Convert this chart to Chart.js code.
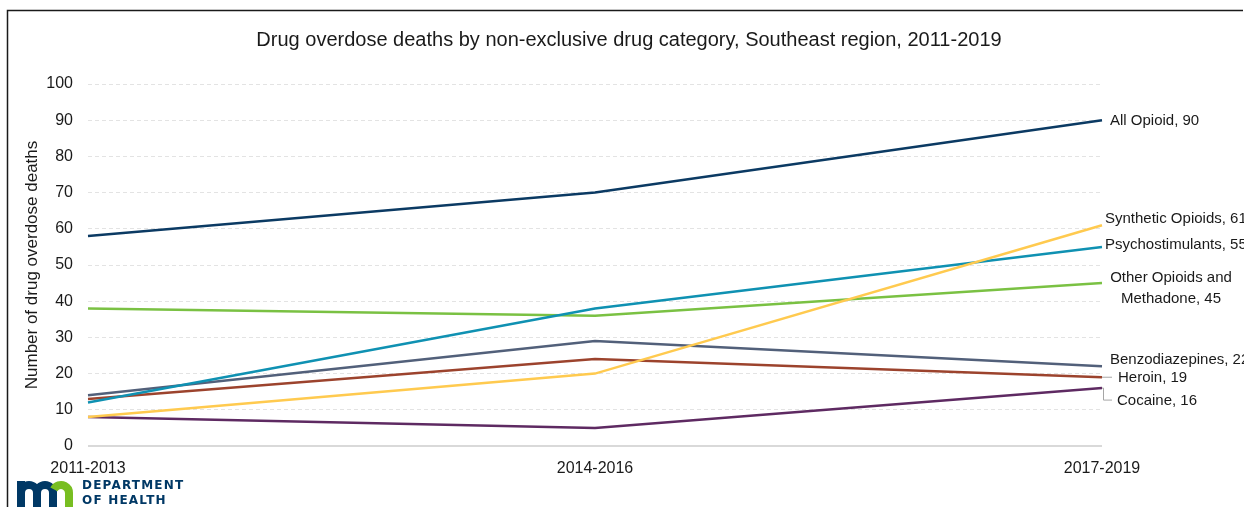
<!DOCTYPE html>
<html>
<head>
<meta charset="utf-8">
<script src="https://cdn.jsdelivr.net/npm/chart.js@4.4.0/dist/chart.umd.min.js"></script>
<style>
  body { margin: 0; background: #fff; }
  #chart { display: block; }
</style>
</head>
<body>
<canvas id="chart" width="1244" height="507"></canvas>
<script>
// Data
var periods = ['2011-2013', '2014-2016', '2017-2019'];
var allOpioid = [58, 70, 90];
var syntheticOpioids = [8, 20, 61];
var psychostimulants = [12, 38, 55];
var otherOpioids = [38, 36, 45];
var benzodiazepines = [14, 29, 22];
var heroin = [13, 24, 19];
var cocaine = [8, 5, 16];
var yTicks = [0, 10, 20, 30, 40, 50, 60, 70, 80, 90, 100];

var FONT = '"Liberation Sans", Arial, sans-serif';

// end-of-line labels (drawn by plugin below)
var endLabels = [
    { set: 0, lines: ['All Opioid, 90'], x: 1110, dy: 1, align: 'left' },
    { set: 1, lines: ['Synthetic Opioids, 61'], x: 1105, dy: -6, align: 'left' },
    { set: 2, lines: ['Psychostimulants, 55'], x: 1105, dy: -2, align: 'left' },
    { set: 3, lines: ['Other Opioids and', 'Methadone, 45'], x: 1171, dy: 5, align: 'center' },
    { set: 4, lines: ['Benzodiazepines, 22'], x: 1110, dy: -7, align: 'left' },
    { set: 5, lines: ['Heroin, 19'], x: 1118, dy: 1, align: 'left' },
    { set: 6, lines: ['Cocaine, 16'], x: 1117, dy: 13, align: 'left' }
];

function drawLogo(ctx) {
    ctx.save();
    ctx.lineWidth = 8;
    ctx.lineCap = 'butt';
    ctx.strokeStyle = '#003865';
    ctx.fillStyle = '#003865';
    ctx.fillRect(17, 481, 8, 12);
    ctx.beginPath();
    ctx.moveTo(21, 507);
    ctx.lineTo(21, 493);
    ctx.arc(29, 493, 8, Math.PI, 0);
    ctx.lineTo(37, 507);
    ctx.moveTo(37, 493);
    ctx.arc(45, 493, 8, Math.PI, 0);
    ctx.lineTo(53, 507);
    ctx.stroke();
    ctx.strokeStyle = '#78be21';
    ctx.beginPath();
    ctx.arc(61, 493, 8, Math.PI * 1.15, 0);
    ctx.lineTo(69, 507);
    ctx.stroke();
    ctx.font = 'bold 12px "DejaVu Sans", sans-serif';
    ctx.textAlign = 'left';
    ctx.textBaseline = 'middle';
    ctx.letterSpacing = '1.2px';
    ctx.fillText('DEPARTMENT', 82, 486);
    ctx.fillText('OF HEALTH', 82, 501);
    ctx.restore();
}

const extras = {
    id: 'extras',
    beforeDraw(chart) {
        const ctx = chart.ctx;
        ctx.save();
        ctx.fillStyle = '#fff';
        ctx.fillRect(0, 0, chart.width, chart.height);
        // frame
        ctx.strokeStyle = '#1a1a1a';
        ctx.lineWidth = 1.5;
        ctx.beginPath();
        ctx.moveTo(7.5, 507);
        ctx.lineTo(7.5, 10.5);
        ctx.lineTo(1243, 10.5);
        ctx.stroke();
        // title
        ctx.fillStyle = '#1a1a1a';
        ctx.font = '20px ' + FONT;
        ctx.textAlign = 'center';
        ctx.textBaseline = 'middle';
        ctx.fillText('Drug overdose deaths by non-exclusive drug category, Southeast region, 2011-2019', 629, 40);
        ctx.restore();
    },
    afterDatasetsDraw(chart) {
        const ctx = chart.ctx;
        const y = chart.scales.y;
        ctx.save();
        ctx.fillStyle = '#1a1a1a';
        ctx.font = '15px ' + FONT;
        ctx.textBaseline = 'middle';
        endLabels.forEach(l => {
            const ds = chart.data.datasets[l.set];
            const yy = y.getPixelForValue(ds.data[ds.data.length - 1]) + l.dy;
            ctx.textAlign = l.align;
            const top = yy - (l.lines.length - 1) * 21 / 2;
            l.lines.forEach((t, i) => ctx.fillText(t, l.x, top + i * 21));
        });
        // leader lines for Heroin and Cocaine
        const xEnd = chart.scales.x.getPixelForValue(2);
        ctx.strokeStyle = '#a6a6a6';
        ctx.lineWidth = 1;
        ctx.beginPath();
        let hy = y.getPixelForValue(heroin[2]);
        ctx.moveTo(xEnd, hy);
        ctx.lineTo(xEnd + 10, hy);
        let cy = y.getPixelForValue(cocaine[2]);
        ctx.moveTo(xEnd, cy);
        ctx.lineTo(xEnd + 1.5, cy);
        ctx.lineTo(xEnd + 1.5, cy + 12);
        ctx.lineTo(xEnd + 10, cy + 12);
        ctx.stroke();
        ctx.restore();

        drawLogo(ctx);
    }
};

function series(label, data, color) {
    return {
        label: label,
        data: data,
        borderColor: color,
        backgroundColor: color,
        borderWidth: 2.5,
        pointRadius: 0,
        tension: 0,
        clip: false
    };
}

new Chart(document.getElementById('chart'), {
    type: 'line',
    data: {
        labels: periods,
        datasets: [
            series('All Opioid', allOpioid, '#0b3a63'),
            series('Synthetic Opioids', syntheticOpioids, '#ffca4f'),
            series('Psychostimulants', psychostimulants, '#0f91b2'),
            series('Other Opioids and Methadone', otherOpioids, '#7ac143'),
            series('Benzodiazepines', benzodiazepines, '#52607a'),
            series('Heroin', heroin, '#9c432d'),
            series('Cocaine', cocaine, '#5e2a62')
        ]
    },
    options: {
        responsive: false,
        animation: false,
        devicePixelRatio: 1,
        layout: { padding: { top: 84, right: 142, left: 0, bottom: 0 } },
        plugins: {
            legend: { display: false },
            tooltip: { enabled: false }
        },
        scales: {
            x: {
                offset: false,
                grid: { display: false },
                border: { display: false },
                ticks: {
                    color: '#1a1a1a',
                    font: { family: FONT, size: 16 },
                    maxRotation: 0,
                    padding: 5
                },
                afterFit: s => { s.height = 61; }
            },
            y: {
                min: 0,
                max: 100,
                afterBuildTicks: s => { s.ticks = yTicks.map(v => ({ value: v })); },
                grid: {
                    drawTicks: false,
                    color: c => c.tick && c.tick.value === 0 ? '#d9d9d9' : '#e3e3e3',
                    lineWidth: c => c.tick && c.tick.value === 0 ? 2 : 1
                },
                border: {
                    display: false,
                    dash: c => c.tick && c.tick.value === 0 ? [] : [4, 3]
                },
                ticks: {
                    color: '#1a1a1a',
                    font: { family: FONT, size: 16 },
                    padding: 15
                },
                title: {
                    display: true,
                    text: 'Number of drug overdose deaths',
                    color: '#1a1a1a',
                    font: { family: FONT, size: 17 },
                    padding: { top: 22, bottom: 0 }
                },
                afterFit: s => { s.width = 88; }
            }
        }
    },
    plugins: [extras]
});
</script>
</body>
</html>
